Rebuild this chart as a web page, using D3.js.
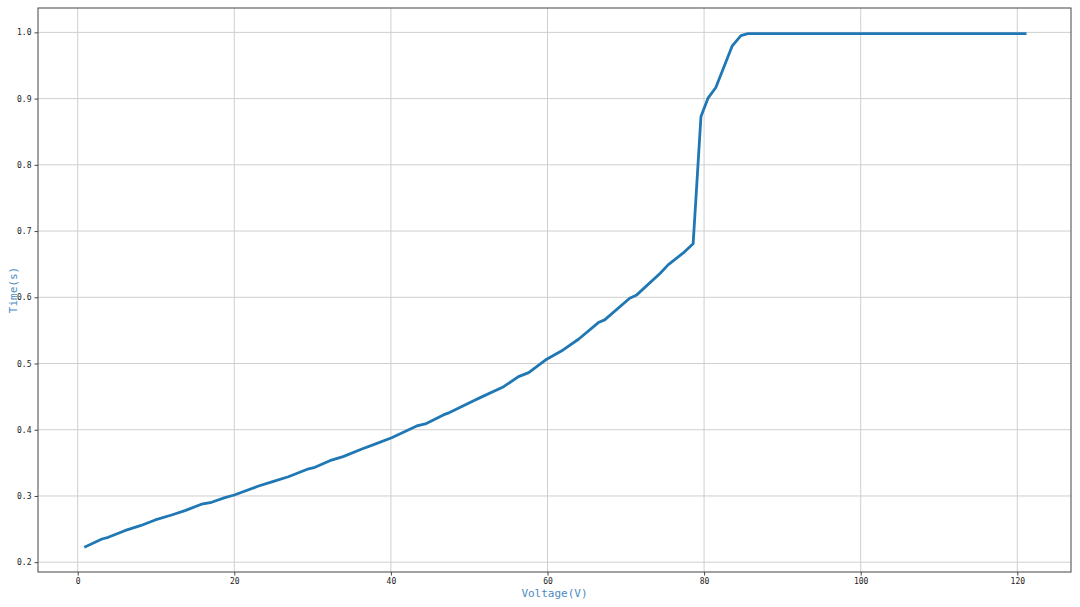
<!DOCTYPE html>
<html>
<head>
<meta charset="utf-8">
<script src="https://cdn.jsdelivr.net/npm/d3@7/dist/d3.min.js"></script>
<style>
  html, body { margin: 0; padding: 0; background: #fff; }
  svg { display: block; }
</style>
</head>
<body>
<svg id="chart" width="1080" height="607"></svg>
<script>
// ---- data ----
const voltage = [1.0, 3.1, 3.9, 6.0, 8.0, 9.9, 12.0, 13.7, 15.8, 17.1, 18.8, 20.0,
  23.1, 24.7, 26.9, 29.5, 30.3, 32.2, 33.9, 36.3, 37.8, 40.1, 43.3, 44.4, 46.7,
  47.3, 50.5, 51.4, 54.4, 56.3, 57.6, 59.9, 62.0, 64.0, 66.5, 67.3, 70.5, 71.4,
  74.4, 75.4, 77.3, 78.6, 79.6, 80.5, 81.5, 83.6, 84.7, 85.6, 121.0];
const time = [0.2234, 0.2350, 0.2376, 0.2476, 0.2551, 0.2638, 0.2713, 0.2778, 0.2875,
  0.2905, 0.2975, 0.3015, 0.3150, 0.3210, 0.3290, 0.3410, 0.3433, 0.3533, 0.3594,
  0.3710, 0.3775, 0.3880, 0.4057, 0.4088, 0.4224, 0.4250, 0.4435, 0.4485, 0.4650,
  0.4802, 0.4863, 0.5065, 0.5205, 0.5370, 0.5618, 0.5659, 0.5986, 0.6036, 0.6364,
  0.6490, 0.6666, 0.6807, 0.8730, 0.9007, 0.9168, 0.9797, 0.9950, 0.9980, 0.9980];
const xTicks = [0, 20, 40, 60, 80, 100, 120];
const yTicks = [0.2, 0.3, 0.4, 0.5, 0.6, 0.7, 0.8, 0.9, 1.0];
const xLabel = "Voltage(V)";
const yLabel = "Time(s)";

(function () {
  const points = voltage.map((v, i) => ({ v, t: time[i] }));

  const svg = d3.select("#chart");
  const pl = 38, pr = 1071, pt = 8, pb = 572;

  const x = d3.scaleLinear().domain([-5.07, 126.86]).range([pl, pr]);
  const y = d3.scaleLinear().domain([0.1852, 1.0368]).range([pb, pt]);

  const monoFont = "'DejaVu Sans Mono', 'Liberation Mono', monospace";

  // grid
  const grid = svg.append("g");
  grid.selectAll("line.gx").data(xTicks).enter().append("line")
    .attr("class", "gx")
    .attr("x1", d => x(d)).attr("x2", d => x(d))
    .attr("y1", pt).attr("y2", pb)
    .attr("stroke", "#cfcfcf").attr("stroke-width", 1);
  grid.selectAll("line.gy").data(yTicks).enter().append("line")
    .attr("class", "gy")
    .attr("y1", d => y(d)).attr("y2", d => y(d))
    .attr("x1", pl).attr("x2", pr)
    .attr("stroke", "#cfcfcf").attr("stroke-width", 1);

  // axes
  const xAxis = d3.axisBottom(x).tickValues(xTicks).tickSize(3.5).tickPadding(3)
    .tickFormat(d3.format("d"));
  const yAxis = d3.axisLeft(y).tickValues(yTicks).tickSize(3.5).tickPadding(3)
    .tickFormat(d3.format(".1f"));

  const gx = svg.append("g").attr("transform", `translate(0,${pb})`).call(xAxis);
  const gy = svg.append("g").attr("transform", `translate(${pl},0)`).call(yAxis);
  [gx, gy].forEach(g => {
    g.select(".domain").remove();
    g.selectAll(".tick line").attr("stroke", "#333").attr("stroke-width", 0.9);
    g.selectAll(".tick text").attr("fill", "#222")
      .style("font-family", monoFont).style("font-size", "8px");
  });

  // line
  const line = d3.line().x(d => x(d.v)).y(d => y(d.t));
  svg.append("path").datum(points)
    .attr("d", line)
    .attr("fill", "none")
    .attr("stroke", "#1f77b4")
    .attr("stroke-width", 2.8)
    .attr("stroke-linejoin", "round")
    .attr("stroke-linecap", "square");

  // frame
  svg.append("rect")
    .attr("x", pl).attr("y", pt)
    .attr("width", pr - pl).attr("height", pb - pt)
    .attr("fill", "none").attr("stroke", "#444").attr("stroke-width", 1);

  // labels
  svg.append("text")
    .attr("x", (pl + pr) / 2).attr("y", 597)
    .attr("text-anchor", "middle")
    .attr("fill", "#4a8ac4")
    .style("font-family", monoFont).style("font-size", "11px")
    .text(xLabel);

  svg.append("text")
    .attr("transform", `translate(17,${(pt + pb) / 2}) rotate(-90)`)
    .attr("text-anchor", "middle")
    .attr("fill", "#4a8ac4")
    .style("font-family", monoFont).style("font-size", "11px")
    .text(yLabel);
})();
</script>
</body>
</html>
